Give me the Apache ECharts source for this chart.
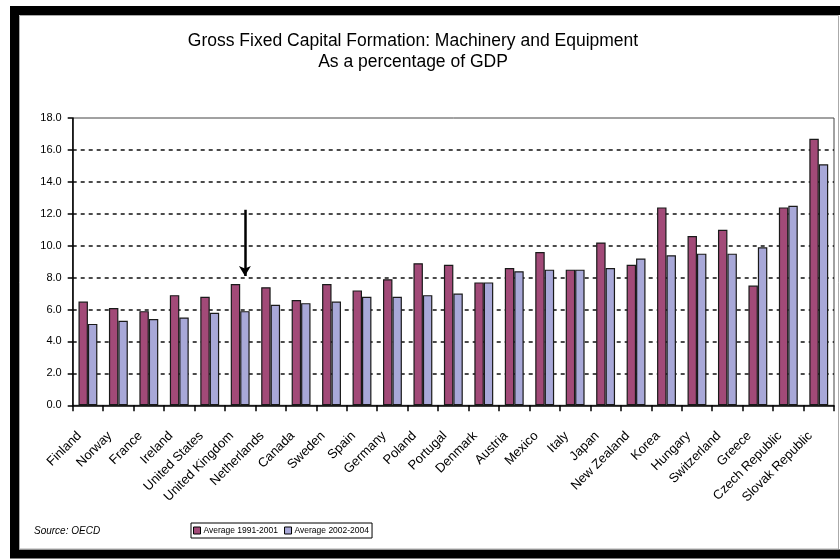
<!DOCTYPE html>
<html>
<head>
<meta charset="utf-8">
<script src="https://cdn.jsdelivr.net/npm/echarts@6/dist/echarts.min.js"></script>
<style>
  html, body { margin: 0; padding: 0; background: #fff; }
  #chart { width: 840px; height: 559px; }
</style>
</head>
<body>
<div id="chart"></div>
<script>
// OECD countries, ordered by the 2002-2004 average
const countries = ['Finland', 'Norway', 'France', 'Ireland', 'United States', 'United Kingdom',
  'Netherlands', 'Canada', 'Sweden', 'Spain', 'Germany', 'Poland', 'Portugal', 'Denmark',
  'Austria', 'Mexico', 'Italy', 'Japan', 'New Zealand', 'Korea', 'Hungary', 'Switzerland',
  'Greece', 'Czech Republic', 'Slovak Republic'];

// Machinery and equipment investment, % of GDP
const avg1991to2001 = [6.5, 6.1, 5.9, 6.9, 6.8, 7.6, 7.4, 6.6, 7.6, 7.2, 7.9, 8.9, 8.8, 7.7,
  8.6, 9.6, 8.5, 10.2, 8.8, 12.4, 10.6, 11.0, 7.5, 12.4, 16.7];
const avg2002to2004 = [5.1, 5.3, 5.4, 5.5, 5.8, 5.9, 6.3, 6.4, 6.5, 6.8, 6.8, 6.9, 7.0, 7.7,
  8.4, 8.5, 8.5, 8.6, 9.2, 9.4, 9.5, 9.5, 9.9, 12.5, 15.1];

const seriesNames = ['Average 1991-2001', 'Average 2002-2004'];
const titleLines = ['Gross Fixed Capital Formation: Machinery and Equipment', 'As a percentage of GDP'];
const sourceNote = 'Source: OECD';

// Arrow highlighting the United Kingdom
const arrowCountry = 'United Kingdom';
const arrowFrom = 12.25;
const arrowTo = 8.1;

const FONT = '"Liberation Sans", Arial, sans-serif';

const chart = echarts.init(document.getElementById('chart'), null, { renderer: 'canvas' });

chart.setOption({
  animation: false,
  backgroundColor: '#fff',
  textStyle: { fontFamily: FONT, color: '#000' },
  title: {
    text: titleLines.join('\n'),
    left: 413,
    top: 31,
    padding: 0,
    textAlign: 'center',
    textStyle: { fontFamily: FONT, fontSize: 17.5, fontWeight: 'normal', color: '#000', lineHeight: 21 }
  },
  legend: {
    data: seriesNames,
    left: 191,
    top: 523,
    orient: 'horizontal',
    padding: [3, 3, 3, 2],
    itemGap: 6,
    itemWidth: 7,
    itemHeight: 7,
    icon: 'rect',
    borderColor: '#000',
    borderWidth: 1,
    itemStyle: { borderColor: '#000', borderWidth: 1 },
    textStyle: { fontFamily: FONT, fontSize: 8.5, color: '#000', padding: [0, 0, 0, -2] }
  },
  grid: {
    left: 72.7,
    right: 6,
    top: 118,
    bottom: 153.7,
    containLabel: false,
    show: true,
    borderColor: '#444',
    borderWidth: 1
  },
  xAxis: {
    type: 'category',
    data: countries,
    axisLine: { lineStyle: { color: '#000', width: 1.5 } },
    axisTick: { show: true, length: 6, lineStyle: { color: '#000', width: 1.5 } },
    axisLabel: { interval: 0, rotate: 45, fontSize: 13, color: '#000', margin: 20,
      padding: [0, 12, 0, 0], fontFamily: FONT }
  },
  yAxis: {
    type: 'value',
    min: 0,
    max: 18,
    interval: 2,
    axisLine: { show: true, lineStyle: { color: '#000', width: 1.5 } },
    axisTick: { show: true, length: 5, lineStyle: { color: '#000', width: 1.5 } },
    axisLabel: { fontSize: 11, color: '#000', margin: 11, fontFamily: FONT,
      formatter: v => v.toFixed(1) },
    splitLine: {
      show: true,
      showMinLine: false,
      showMaxLine: false,
      lineStyle: { color: '#111', width: 1.5, type: [4, 4] }
    }
  },
  series: [
    {
      name: seriesNames[0],
      type: 'bar',
      data: avg1991to2001,
      barGap: '0%',
      barCategoryGap: '38%',
      itemStyle: { color: '#A24A78', borderColor: '#1a1a1a', borderWidth: 1.2 }
    },
    {
      name: seriesNames[1],
      type: 'bar',
      data: avg2002to2004,
      itemStyle: { color: '#A8A8D8', borderColor: '#1a1a1a', borderWidth: 1.2 },
      markLine: {
        silent: true,
        symbol: ['none', 'arrow'],
        symbolSize: [9, 10],
        label: { show: false },
        lineStyle: { color: '#000', width: 2.5, type: 'solid' },
        data: [[
          { coord: [arrowCountry, arrowFrom] },
          { coord: [arrowCountry, arrowTo] }
        ]]
      }
    }
  ],
  graphic: [
    {
      type: 'rect',
      z: 100,
      silent: true,
      shape: { x: 14.5, y: 10.5, width: 840, height: 543.5 },
      style: { fill: null, stroke: '#000', lineWidth: 9 }
    },
    {
      type: 'rect',
      z: 100,
      silent: true,
      shape: { x: 19.5, y: 15.5, width: 819, height: 533.5 },
      style: { fill: null, stroke: '#aaa', lineWidth: 1 }
    },
    {
      type: 'text',
      left: 34,
      top: 526,
      style: { text: sourceNote, fontFamily: FONT, fontSize: 10, fontStyle: 'italic', fill: '#000' }
    }
  ]
});
</script>
</body>
</html>
